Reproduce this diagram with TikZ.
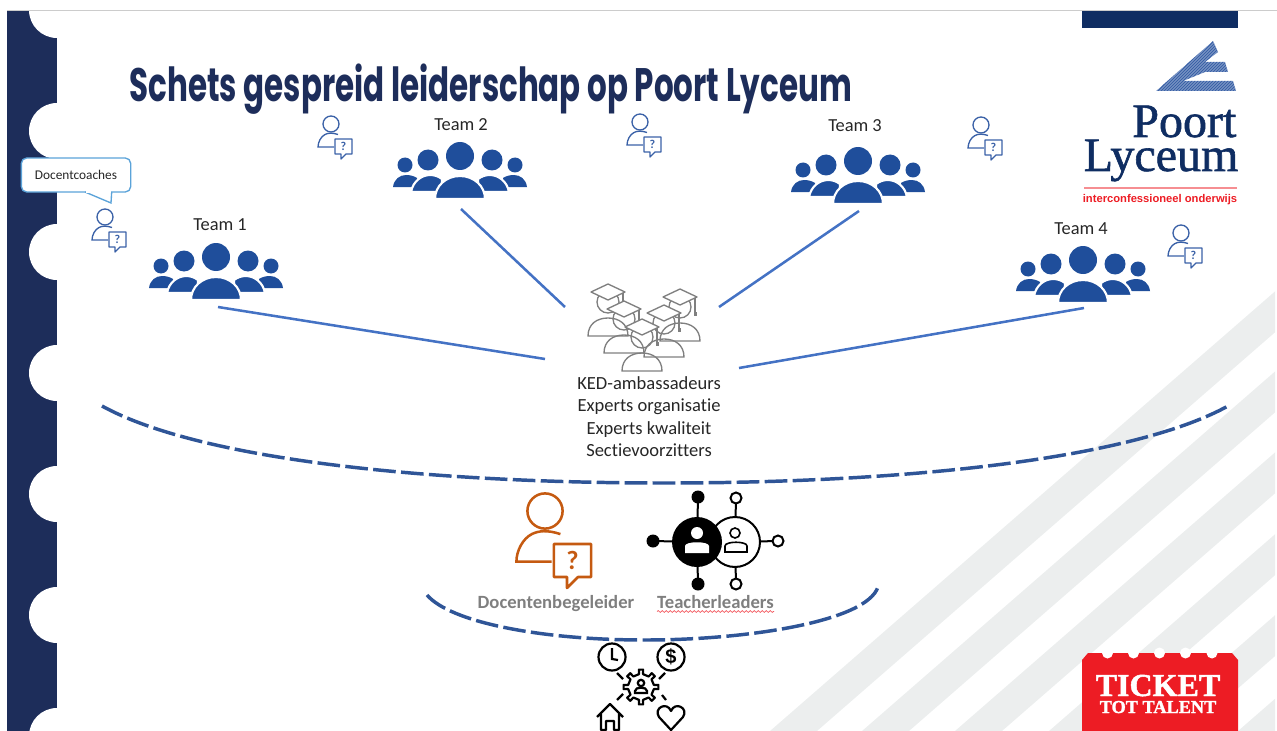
\documentclass[tikz,border=0pt]{standalone}
\usepackage{fontspec}
\setmainfont[Ligatures=NoCommon]{Carlito}
\newfontfamily\titlefont[FakeStretch=0.66]{Poppins}
\newfontfamily\logofont[FakeBold=1.2]{Liberation Serif}
\newfontfamily\subfont{Liberation Sans}
\newfontfamily\ticketfont[FakeBold=1.5]{Liberation Serif}
\usepackage{tikz}
\usetikzlibrary{positioning,decorations.pathmorphing}
\definecolor{plnavy}{RGB}{29,45,90}
\definecolor{pllogo}{RGB}{15,45,98}
\definecolor{plblue}{RGB}{31,78,155}
\definecolor{pllink}{RGB}{68,114,196}
\definecolor{pldash}{RGB}{47,85,151}
\definecolor{plstripe}{RGB}{236,238,238}
\definecolor{plgrey}{RGB}{127,127,127}
\definecolor{plorange}{RGB}{197,90,17}
\definecolor{plred}{RGB}{237,28,36}
\definecolor{plcallout}{RGB}{91,163,217}
\tikzstyle{teamlabel} = [font=\fontsize{13.8}{16}\selectfont, text=black!85]
\tikzstyle{link} = [line width=1.9pt, color=pllink]
\tikzstyle{arcdash} = [line width=2.6pt, color=pldash, dash pattern=on 17pt off 4pt]
\tikzstyle{rolelabel} = [font=\fontsize{14}{16}\selectfont\bfseries, text=plgrey]
\tikzset{
  pics/teamicon/.style={code={
    \fill[plblue] (-67,-12) .. controls (-66,-20) and (-60,-24) .. (-54,-24) .. controls (-50,-24) and (-46,-23) .. (-43,-21) -- (-43,-12) -- cycle;
    \fill[plblue] (67,-12) .. controls (66,-20) and (60,-24) .. (54,-24) .. controls (50,-24) and (46,-23) .. (43,-21) -- (43,-12) -- cycle;
    \fill[plblue] (-55,-34) circle (7.5) (55,-34) circle (7.5);
    \filldraw[plblue, draw=white, line width=1.6pt] (-49,-7) .. controls (-47,-18) and (-38,-24) .. (-30,-24) .. controls (-26,-24) and (-22,-23) .. (-18,-20) -- (-18,-7) -- cycle;
    \filldraw[plblue, draw=white, line width=1.6pt] (49,-7) .. controls (47,-18) and (38,-24) .. (30,-24) .. controls (26,-24) and (22,-23) .. (18,-20) -- (18,-7) -- cycle;
    \fill[plblue] (-32,-39) circle (10.5) (32,-39) circle (10.5);
    \fill[plblue] (0,-43) circle (14);
    \filldraw[plblue, draw=white, line width=1.6pt] (-25,0) .. controls (-25,-13) and (-14,-23) .. (0,-23) .. controls (14,-23) and (25,-13) .. (25,0) -- cycle;
  }},
  pics/personq/.style={code={
    \draw[#1] (0,0) circle (8);
    \draw[#1] (7,10.5) .. controls (1,8.5) and (-3,9) .. (-6,10.5) .. controls (-10,12.5) and (-13,18) .. (-13,23) -- (3,23);
    \draw[#1, line join=round] (4,15) -- (21,15) -- (21,30) -- (15,30) -- (10,35) -- (10,30) -- (4,30) -- cycle;
    \node (mark) [font=\fontsize{9}{9}\selectfont\bfseries, text=#1, transform shape, inner sep=0pt] at (12.5,22.5) {?};
  }},
  pics/gradicon/.style={code={
    \draw[plgrey] (0,10) circle (11);
    \draw[plgrey] (-20,44) .. controls (-20,32) and (-11,26) .. (0,26) .. controls (11,26) and (20,32) .. (20,44) -- cycle;
    \filldraw[plgrey, fill=white, line join=round] (-17,0) -- (0,-8) -- (17,0) -- (0,8) -- cycle;
    \draw[plgrey] (15,1) -- (15,15);
    \fill[plgrey] (13.5,15) rectangle (16.5,19);
  }}
}
\begin{document}
\begin{tikzpicture}[x=0.75pt, y=-0.75pt, line width=1pt]
\useasboundingbox (0,0) rectangle (1277,731);
% Background stripes
\begin{scope}
\clip (7,11) rectangle (1275,731);
\foreach \s in {770,862,955,1049,1142,1238} {
  \fill[plstripe] (\s,731) -- (\s+47,731) -- (\s+47+610,200) -- (\s+610,200) -- cycle;
}
\end{scope}

% Left ticket edge
\fill[plnavy] (7,11) rectangle (57,731);
\foreach \y in {10,131,252,373,494,615,736} {
  \fill[white] (57,\y) circle (28);
}
\fill[white] (0,0) rectangle (1277,10);
\draw[black!20, line width=0.8pt] (7,10.5) -- (1277,10.5);

% Title
\node (title) [anchor=base west, inner sep=0pt, text=plnavy, font=\titlefont\fontsize{35.2}{40}\selectfont\bfseries] at (129,102) {Schets gespreid leiderschap op Poort Lyceum};

% Logo
\fill[pllogo] (1082,11) rectangle (1238,28);
\begin{scope}
\clip (1213,41) -- (1218,52) -- (1205,62) -- (1225,62) -- (1228,72) -- (1205,72) -- (1183,81) -- (1233,81) -- (1236,91) -- (1156,91) -- cycle;
\foreach \h in {1100,1103,...,1240} {
  \draw[pllink!85!black, line width=1.1pt] (\h,95) -- (\h+60,35);
}
\end{scope}
\node (poort) [anchor=base east, inner sep=0pt, text=pllogo, font=\logofont\fontsize{36}{36}\selectfont] at (1237,137) {Poort};
\node (lyceum) [anchor=base east, inner sep=0pt, text=pllogo, font=\logofont\fontsize{36}{36}\selectfont] at (1239,171) {Lyceum};
\draw[plred!50, line width=0.8pt] (1084,188) -- (1237,188);
\node (motto) [anchor=base, inner sep=0pt, text=plred, font=\subfont\fontsize{8.4}{10}\selectfont\bfseries] at (1160,202) {interconfessioneel onderwijs};

% Teams
\node (team1) [teamlabel] at (220,225) {Team 1};
\node (team2) [teamlabel] at (461,125) {Team 2};
\node (team3) [teamlabel] at (855,126) {Team 3};
\node (team4) [teamlabel] at (1081,229) {Team 4};
\pic (icon1) at (216,300) {teamicon};
\pic (icon2) at (460,199) {teamicon};
\pic (icon3) at (858,204) {teamicon};
\pic (icon4) at (1083,303) {teamicon};

% Small coach icons
\pic (coach1) at (105,217) {personq=pllink!85!black};
\pic (coach2) at (331,124) {personq=pllink!85!black};
\pic (coach3) at (640,122) {personq=pllink!85!black};
\pic (coach4) at (981,125) {personq=pllink!85!black};
\pic (coach5) at (1181,233) {personq=pllink!85!black};

% Callout
\node (callout) [draw=plcallout, fill=white, rounded corners=4pt, minimum width=82pt, minimum height=25.5pt, inner sep=0pt, font=\fontsize{10}{12}\selectfont, text=black!85] at (76,175) {Docentcoaches};
\coordinate (tailtip) at (111,203);
\filldraw[draw=plcallout, fill=white] (85,192) -- (tailtip) -- (111.7,192);
\draw[white, line width=1.2pt] (86,192) -- (110.8,192);

% Graduates
\pic (grad1) at (608,292) {gradicon};
\pic (grad5) at (680,297) {gradicon};
\pic (grad2) at (624,309) {gradicon};
\pic (grad4) at (664,313) {gradicon};
\pic (grad3) at (642,327) {gradicon};
\node (hubtext) [align=center, font=\fontsize{13.9}{16.9}\selectfont, text=black!85] at (649,416.5) {KED-ambassadeurs\\Experts organisatie\\Experts kwaliteit\\Sectievoorzitters};

% Links team to centre
\coordinate (out1) at (218,307);
\coordinate (out2) at (461,209);
\coordinate (out3) at (859,211);
\coordinate (out4) at (1084,308);
\coordinate (in1) at (545,359);
\coordinate (in2) at (565,307);
\coordinate (in3) at (719,307);
\coordinate (in4) at (739,368);
\foreach \i in {1,2,3,4} {
  \draw[link] (out\i) -- (in\i);
}

% Dashed arcs
\draw[arcdash] (102,406) .. controls (200,460) and (430,483) .. (665,483) .. controls (900,483) and (1130,460) .. (1228,406);
\draw[arcdash] (427,595) .. controls (450,622) and (540,640) .. (645,640) .. controls (745,640) and (866,622) .. (878,587);

% Docentenbegeleider
\pic (coachlead) [scale=2.2, line width=1.9pt] at (545,511) {personq=plorange};
\node (leadlabel) [rolelabel] at (556,604) {Docentenbegeleider};

% Teacherleaders network
\foreach \x/\y in {698/497,653/541,698/584} {
  \draw[black, line width=1.5pt] (697,542) -- (\x,\y);
  \fill[black] (\x,\y) circle (6.5);
}
\foreach \x/\y in {736/498,778/541,736/584} {
  \draw[black, line width=1.5pt] (735,542) -- (\x,\y);
  \filldraw[draw=black, fill=white, line width=1.5pt] (\x,\y) circle (5.5);
}
\filldraw[draw=black, fill=white, line width=1.5pt] (735,542) circle (25);
\fill[black] (697,542) circle (25);
\fill[white] (697,533) circle (6);
\fill[white] (685,553) -- (685,546) .. controls (685,541) and (709,541) .. (709,546) -- (709,553) -- cycle;
\draw[black, line width=1.2pt] (735,533) circle (5);
\draw[black, line width=1.2pt] (725,552) -- (725,546) .. controls (725,541) and (747,541) .. (747,546) -- (747,552) -- cycle;
\node (tllabel) [rolelabel] at (715.5,602) {Teacherleaders};
\coordinate (squigl) at (657,611.5);
\coordinate (squigr) at (774,611.5);
\draw[plred!80, line width=0.5pt, decorate, decoration={snake, amplitude=0.7pt, segment length=3pt}] (squigl) -- (squigr);

% Bottom icon
\begin{scope}[line width=1.65pt, black]
\draw (612,657) circle (13.5);
\draw (612,648) -- (612,659) -- (618,660);
\draw (671,657) circle (13.5);
\node (dollar) [font=\subfont\fontsize{15}{15}\selectfont\bfseries, inner sep=0pt] at (671,657) {\$};
\foreach \ax/\ay/\bx/\by in {617/673/623/679,665/673/659/679,617/700/623/694,662/695/666/700} {
  \draw (\ax,\ay) -- (\bx,\by);
}
\draw[line join=round, shift={(641,687)}] (-9:13) \foreach \a in {0,45,...,315} { -- (\a-9:13) -- (\a-7:17.5) -- (\a+7:17.5) -- (\a+9:13) } -- cycle;
\draw (641,683) circle (3.2);
\draw (635,693) -- (635,691) .. controls (635,686.5) and (647,686.5) .. (647,691) -- (647,693) -- cycle;
\draw[line join=round] (597,717) -- (610,704) -- (623,717) (601,714) -- (601,730) -- (606,730) -- (606,721) -- (614,721) -- (614,730) -- (619,730) -- (619,714);
\draw[line join=round] (671,730) -- (659,717) .. controls (653,708) and (667,701) .. (671,711) .. controls (675,701) and (689,708) .. (683,717) -- cycle;
\end{scope}

% Ticket
\fill[plred] (1088,653) -- (1232,653) -- (1238,660) -- (1238,731) -- (1082,731) -- (1082,660) -- cycle;
\foreach \x in {1107.5,1133.5,1159.5,1185.5,1212} {
  \fill[white] (\x,653) circle (5.5);
}
\node (ticket) [anchor=base, inner sep=0pt, text=white, font=\ticketfont\fontsize{24}{24}\selectfont\bfseries] at (1158,696) {TICKET};
\node (talent) [anchor=base, inner sep=0pt, text=white, font=\ticketfont\fontsize{13.7}{14}\selectfont\bfseries] at (1158,713) {TOT TALENT};
\end{tikzpicture}
\end{document}
